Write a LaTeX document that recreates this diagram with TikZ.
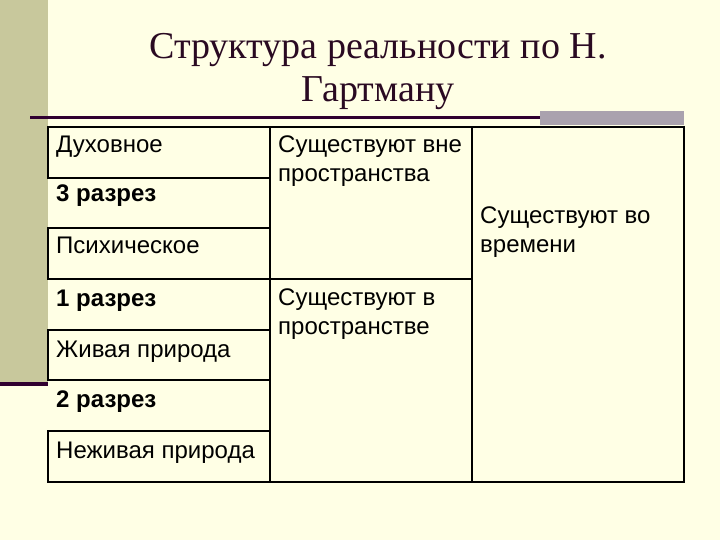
\documentclass[tikz,border=0pt]{standalone}
\usepackage{fontspec}
\setmainfont{Liberation Serif}
\newfontfamily\cellfont{Liberation Sans}
\usepackage{xcolor}
\usetikzlibrary{positioning}
\definecolor{slidebg}{HTML}{FFFFE5}
\definecolor{sidebar}{HTML}{C8C89C}
\definecolor{sideline}{HTML}{300030}
\definecolor{headbar}{HTML}{AAA2AE}
\definecolor{titleink}{HTML}{2A0A22}
\tikzstyle{cellbox}=[draw=black, line width=2.8pt, shape=rectangle, anchor=north west, inner sep=0pt, outer sep=0pt]
\tikzstyle{celltext}=[black, anchor=base west, inner sep=0pt, align=left, font=\cellfont\fontsize{24}{29}\selectfont]
\tikzstyle{cuttext}=[celltext, font=\cellfont\bfseries\fontsize{24}{29}\selectfont]
\tikzstyle{titletext}=[titleink, anchor=base, inner sep=0pt, align=center, font=\fontsize{38}{43}\selectfont]

\begin{document}
\begin{tikzpicture}[x=1pt, y=-1pt]
\useasboundingbox (0,0) rectangle (720,540);
\fill [slidebg] (0,0) rectangle (720,540);
\fill [sidebar] (0,0) rectangle (48,382);
\fill [sideline] (0,382) rectangle (48,386);
\draw [sideline, line width=3pt] (30,117.5) -- (540,117.5);
\fill [headbar] (540,111) rectangle (684,125);

\node [titletext] (title) at (378,101.7) {Структура реальности по Н.\\Гартману};

\node [cellbox, minimum width=222pt, minimum height=51pt] (spirit) at (48,127) {};
\node [cellbox, minimum width=222pt, minimum height=51pt] (psyche) at (48,228) {};
\node [cellbox, minimum width=222pt, minimum height=50pt] (living) at (48,330) {};
\node [cellbox, minimum width=222pt, minimum height=51pt] (lifeless) at (48,431) {};
\node [cellbox, minimum width=202pt, minimum height=152pt] (nospace) at (270,127) {};
\node [cellbox, minimum width=202pt, minimum height=203pt] (inspace) at (270,279) {};
\node [cellbox, minimum width=212pt, minimum height=355pt] (intime) at (472,127) {};

\node [celltext] (spirittxt) at ([xshift=8pt, yshift=-26pt]spirit.north west) {Духовное};
\node [cuttext] (cut3) at ([xshift=8pt, yshift=-24pt]spirit.south west) {3 разрез};
\node [celltext] (psychetxt) at ([xshift=8pt, yshift=-26pt]psyche.north west) {Психическое};
\node [cuttext] (cut1) at ([xshift=8pt, yshift=-27pt]psyche.south west) {1 разрез};
\node [celltext] (livingtxt) at ([xshift=8pt, yshift=-27pt]living.north west) {Живая природа};
\node [cuttext] (cut2) at ([xshift=8pt, yshift=-27pt]living.south west) {2 разрез};
\node [celltext] (lifelesstxt) at ([xshift=8pt, yshift=-27pt]lifeless.north west) {Неживая природа};
\node [celltext] (nospacetxt) at ([xshift=8pt, yshift=-55pt]nospace.north west) {Существуют вне\\пространства};
\node [celltext] (inspacetxt) at ([xshift=8pt, yshift=-55pt]inspace.north west) {Существуют в\\пространстве};
\node [celltext] (intimetxt) at ([xshift=8pt, yshift=-125pt]intime.north west) {Существуют во\\времени};
\end{tikzpicture}
\end{document}
